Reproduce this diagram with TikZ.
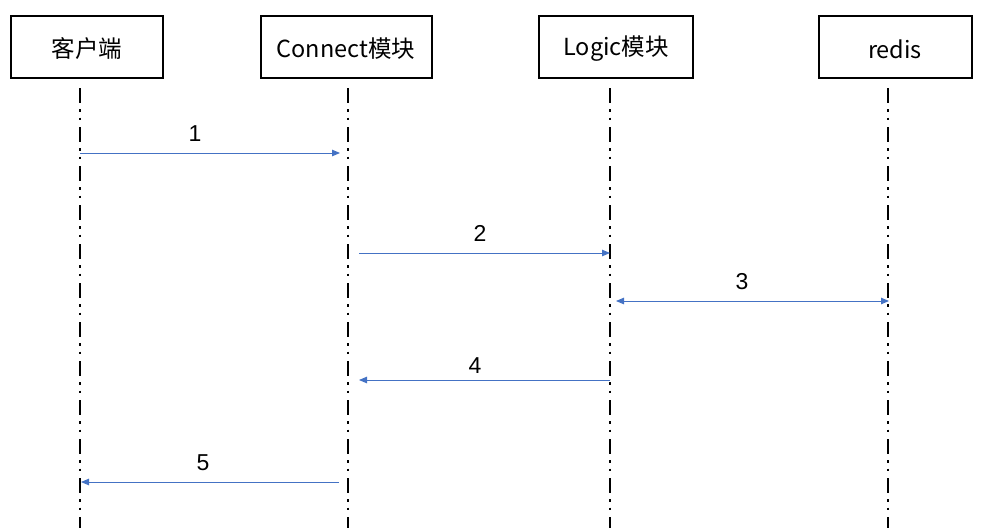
\documentclass[tikz,border=0pt]{standalone}
\usepackage{fontspec}
\setmainfont{Noto Sans CJK SC}
\newfontfamily\digitfont{Liberation Sans}
\usetikzlibrary{arrows.meta}
\begin{document}
\begin{tikzpicture}[x=1pt,y=-1pt,
  actor/.style={draw=black,line width=1.2pt,minimum height=62pt,inner sep=0pt},
  actortext/.style={font=\fontsize{23.5}{26}\selectfont,inner sep=0pt},
  life/.style={line width=1.8pt,dash pattern=on 15pt off 6pt on 2.5pt off 6pt on 2.5pt off 7pt},
  msg/.style={draw={rgb,255:red,68;green,114;blue,196},line width=0.9pt,-{Triangle[length=8pt,width=6.5pt]}},
  biMsg/.style={msg,{Triangle[length=8pt,width=6.5pt]}-{Triangle[length=8pt,width=6.5pt]}},
  lbl/.style={font=\digitfont\fontsize{23}{26}\selectfont,inner sep=0pt}]
\useasboundingbox (0,0) rectangle (985,528);
\node[actor,minimum width=152pt] (c) at (87,47) {};
\node[actor,minimum width=171pt] (n) at (346.5,47) {};
\node[actor,minimum width=154pt] (l) at (616,47) {};
\node[actor,minimum width=153pt] (r) at (895.5,47) {};
\node[actortext] (ct0) at (87,49) {客户端};
\node[actortext] (nt0) at (346,49) {Connect模块};
\node[actortext] (lt0) at (616,49) {Logic模块};
\node[actortext] (rt0) at (895,49) {redis};
\coordinate (ct) at (80,88); \coordinate (cb) at (80,528);
\coordinate (nt) at (348,88); \coordinate (nb) at (348,528);
\coordinate (lt) at (610,88); \coordinate (lb) at (610,528);
\coordinate (rt) at (888,88); \coordinate (rb) at (888,528);
\draw[life] (ct) -- (cb);
\draw[life] (nt) -- (nb);
\draw[life] (lt) -- (lb);
\draw[life] (rt) -- (rb);
\coordinate (a1s) at (80,153); \coordinate (a1e) at (340,153);
\coordinate (a2s) at (359,253); \coordinate (a2e) at (610,253);
\coordinate (a3s) at (616,301); \coordinate (a3e) at (889,301);
\coordinate (a4s) at (610,380); \coordinate (a4e) at (359,380);
\coordinate (a5s) at (339,482); \coordinate (a5e) at (81,482);
\draw[msg] (a1s) -- (a1e);
\draw[msg] (a2s) -- (a2e);
\draw[biMsg] (a3s) -- (a3e);
\draw[msg] (a4s) -- (a4e);
\draw[msg] (a5s) -- (a5e);
\node[lbl] (t1) at (195,134) {1};
\node[lbl] (t2) at (480,233) {2};
\node[lbl] (t3) at (742,282) {3};
\node[lbl] (t4) at (475,366) {4};
\node[lbl] (t5) at (203,463) {5};
\end{tikzpicture}
\end{document}
